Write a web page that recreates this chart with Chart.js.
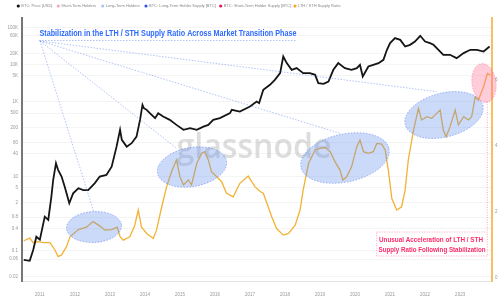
<!DOCTYPE html>
<html>
<head>
<meta charset="utf-8">
<script src="https://cdn.jsdelivr.net/npm/chart.js@4.4.0/dist/chart.umd.min.js"></script>
<style>
  html, body { margin: 0; padding: 0; background: #fff; }
  #wrap { width: 500px; height: 300px; }
</style>
</head>
<body>
<div id="wrap"><canvas id="chart" width="500" height="300"></canvas></div>
<script>
// BTC price (USD), decimal years
const btcT = [
  2010.54, 2010.71, 2010.81, 2010.90, 2011.00, 2011.14, 2011.24, 2011.33, 2011.38, 2011.46,
  2011.52, 2011.62, 2011.71, 2011.84, 2011.95, 2012.10, 2012.24, 2012.38, 2012.57, 2012.71,
  2012.90, 2013.05, 2013.19, 2013.29, 2013.34, 2013.48, 2013.62, 2013.76, 2013.86, 2013.93,
  2013.97, 2014.05, 2014.14, 2014.29, 2014.38, 2014.52, 2014.71, 2014.90, 2015.10, 2015.29,
  2015.48, 2015.67, 2015.81, 2015.95, 2016.14, 2016.43, 2016.48, 2016.71, 2017.00, 2017.19,
  2017.26, 2017.38, 2017.57, 2017.71, 2017.86, 2017.95, 2018.05, 2018.19, 2018.33, 2018.52,
  2018.71, 2018.86, 2018.95, 2019.10, 2019.24, 2019.38, 2019.52, 2019.71, 2019.90, 2020.05,
  2020.14, 2020.22, 2020.38, 2020.52, 2020.67, 2020.81, 2020.91, 2021.00, 2021.14, 2021.29,
  2021.43, 2021.57, 2021.71, 2021.86, 2022.00, 2022.14, 2022.24, 2022.43, 2022.52, 2022.71,
  2022.90, 2023.10, 2023.29, 2023.48, 2023.67, 2023.84
]
const btcPrice = [
  0.057, 0.054, 0.106, 0.24, 0.20, 0.83, 0.68, 2.9, 8.0, 22.6,
  15, 9.9, 5.3, 1.9, 3.5, 4.8, 4.3, 4.3, 6.6, 9.9,
  11, 18.3, 63, 178, 96, 63, 78, 117, 330, 836,
  681, 614, 500, 367, 500, 405, 330, 242, 178, 198,
  178, 218, 242, 330, 367, 500, 614, 552, 752, 1025,
  929, 2115, 2884, 3926, 5943, 16600, 11040, 7300, 8110, 5943,
  5943, 5360, 3200, 3065, 3535, 7300, 11040, 8110, 7300, 8110,
  9930, 4820, 8950, 9930, 11040, 13550, 25150, 38100, 51900, 46600,
  30840, 34270, 42060, 59900, 42060, 38100, 34270, 22650, 18460, 18460,
  15030, 20500, 25150, 25150, 22650, 30840
]

// LTH / STH supply ratio, decimal years
const ratioT = [
  2010.54, 2010.71, 2010.81, 2010.95, 2011.10, 2011.29, 2011.43, 2011.52, 2011.62, 2011.76,
  2011.86, 2012.10, 2012.33, 2012.52, 2012.71, 2012.86, 2013.05, 2013.21, 2013.29, 2013.38,
  2013.57, 2013.71, 2013.81, 2013.90, 2014.05, 2014.24, 2014.33, 2014.48, 2014.62, 2014.76,
  2014.90, 2015.00, 2015.10, 2015.24, 2015.33, 2015.48, 2015.62, 2015.71, 2015.81, 2015.90,
  2016.05, 2016.19, 2016.33, 2016.52, 2016.71, 2016.95, 2017.14, 2017.29, 2017.38, 2017.52,
  2017.62, 2017.76, 2017.95, 2018.10, 2018.29, 2018.43, 2018.52, 2018.67, 2018.86, 2019.00,
  2019.14, 2019.29, 2019.43, 2019.57, 2019.65, 2019.76, 2019.90, 2020.05, 2020.14, 2020.24,
  2020.38, 2020.52, 2020.62, 2020.76, 2020.86, 2020.95, 2021.05, 2021.19, 2021.33, 2021.43,
  2021.52, 2021.67, 2021.81, 2021.90, 2022.05, 2022.19, 2022.33, 2022.43, 2022.52, 2022.60,
  2022.71, 2022.86, 2022.95, 2023.10, 2023.24, 2023.33, 2023.43, 2023.52, 2023.67, 2023.78, 2023.86
]
const ratioValues = [
  1.13, 1.21, 1.07, 1.10, 1.07, 1.07, 0.85, 0.65, 0.70, 0.95,
  1.25, 1.47, 1.54, 1.71, 1.58, 1.45, 1.47, 1.54, 1.25, 1.15,
  1.25, 1.60, 2.06, 1.55, 1.35, 1.20, 1.45, 2.16, 2.77, 3.22,
  3.58, 3.07, 2.82, 2.97, 2.82, 3.47, 3.78, 3.83, 3.58, 3.22,
  3.07, 2.92, 2.57, 2.46, 2.87, 3.09, 2.77, 2.62, 2.57, 2.16,
  1.86, 1.50, 1.30, 1.35, 1.60, 2.06, 2.67, 3.47, 3.88, 3.93,
  3.96, 3.83, 3.52, 3.27, 2.97, 3.07, 3.37, 3.98, 4.18, 3.83,
  3.78, 3.83, 4.08, 4.06, 3.88, 3.27, 2.41, 2.06, 2.16, 2.67,
  3.58, 4.48, 5.14, 4.79, 4.89, 4.84, 4.99, 5.09, 4.48, 4.28,
  4.58, 5.09, 4.64, 4.89, 4.79, 4.89, 5.49, 5.39, 5.80, 6.20, 6.15
]

// axis ticks
const yearTicks = [2011, 2012, 2013, 2014, 2015, 2016, 2017, 2018, 2019, 2020, 2021, 2022, 2023]
const priceTicks = [0.02, 0.06, 0.1, 0.4, 0.8, 2, 5, 10, 40, 80, 200, 500, 1000, 5000, 10000, 20000, 60000, 100000]
const priceTickLabels = ["0.02", "0.06", "0.1", "0.4", "0.8", "2", "5", "10", "40", "80", "200", "500", "1K", "5K", "10K", "20K", "60K", "100K"]
const ratioTicks = [0, 2, 4, 6]

const legendNames = ["BTC: Price [USD]", "Short-Term Holders", "Long-Term Holders", "BTC: Long-Term Holder Supply [BTC]", "BTC: Short-Term Holder Supply [BTC]", "LTH / STH Supply Ratio"]
const legendColors = ["#111111", "#f3a9b8", "#a9c3f3", "#3555e6", "#e8175d", "#f5a623"]

const titleText = "Stabilization in the LTH / STH Supply Ratio Across Market Transition Phase"
const noteLines = ["Unusual Acceleration of LTH / STH", "Supply Ratio Following Stabilization"]

// draw text squeezed/stretched to a given width
function fitText(ctx, text, x, y, width, align) {
  const w = ctx.measureText(text).width
  const sx = width / w
  ctx.save()
  ctx.translate(x, y)
  ctx.scale(sx, 1)
  ctx.textAlign = align || "left"
  ctx.fillText(text, 0, 0)
  ctx.restore()
}

function ellipse(ctx, cx, cy, rx, ry, rot, fill, stroke) {
  ctx.save()
  ctx.beginPath()
  ctx.ellipse(cx, cy, rx, ry, rot * Math.PI / 180, 0, Math.PI * 2)
  ctx.fillStyle = fill
  ctx.fill()
  ctx.setLineDash([1.5, 1.5])
  ctx.lineWidth = 0.8
  ctx.strokeStyle = stroke
  ctx.stroke()
  ctx.restore()
}

const overlay = {
  id: "overlay",
  beforeDatasetsDraw(chart) {
    const ctx = chart.ctx
    ctx.save()
    ctx.font = '600 34px "Open Sans", "DejaVu Sans", sans-serif'
    ctx.fillStyle = "rgba(150,150,150,0.32)"
    ctx.textBaseline = "alphabetic"
    fitText(ctx, "glassnode", 254, 158, 155, "center")
    ctx.restore()
  },
  afterDatasetsDraw(chart) {
    const ctx = chart.ctx
    const blueFill = "rgba(95,140,235,0.32)"
    const blueLine = "rgba(80,120,235,0.7)"
    ellipse(ctx, 94, 227, 27.5, 15.5, -3, blueFill, blueLine)
    ellipse(ctx, 192, 167, 35, 19.5, -10, blueFill, blueLine)
    ellipse(ctx, 345, 158, 45, 24, -12, blueFill, blueLine)
    ellipse(ctx, 444, 115, 40, 22, -14, blueFill, blueLine)
    ellipse(ctx, 484, 83, 12, 19.5, -8, "rgba(255,110,150,0.35)", "rgba(255,90,140,0.6)")

    // dotted pointers from title
    ctx.save()
    ctx.strokeStyle = "rgba(90,130,240,0.6)"
    ctx.lineWidth = 0.8
    ctx.setLineDash([1.5, 1.5])
    const ox = 40, oy = 41
    ;[[94, 212.5], [176.7, 148.3], [340, 133.3], [436.7, 91.7]].forEach(([ex, ey]) => {
      ctx.beginPath()
      ctx.moveTo(ox, oy)
      ctx.lineTo(ex, ey)
      ctx.stroke()
    })
    ctx.beginPath()
    ctx.moveTo(39, 40.5)
    ctx.lineTo(297, 40.5)
    ctx.stroke()
    ctx.restore()

    // title
    ctx.save()
    ctx.font = 'bold 9.5px "Liberation Sans Narrow", "Liberation Sans", Arial, sans-serif'
    ctx.fillStyle = "#2e6bff"
    fitText(ctx, titleText, 39.5, 35.5, 257, "left")
    ctx.restore()

    // note box
    ctx.save()
    ctx.strokeStyle = "rgba(255,80,130,0.65)"
    ctx.lineWidth = 0.8
    ctx.setLineDash([1, 1.5])
    ctx.strokeRect(376.7, 232, 110.6, 24)
    ctx.beginPath()
    ctx.moveTo(487.3, 102)
    ctx.lineTo(487.3, 232)
    ctx.stroke()
    ctx.font = 'bold 7px "Liberation Sans Narrow", "Liberation Sans", Arial, sans-serif'
    ctx.fillStyle = "#ff2b6b"
    fitText(ctx, noteLines[0], 431, 241.5, 104, "center")
    fitText(ctx, noteLines[1], 432, 252, 107, "center")
    ctx.restore()
  },
  afterDraw(chart) {
    const ctx = chart.ctx
    const dotX = [18.3, 58.3, 102.7, 146, 220.7, 295]
    ctx.save()
    ctx.font = '4px "Liberation Sans", Arial, sans-serif'
    ctx.textBaseline = "middle"
    legendNames.forEach((name, i) => {
      ctx.beginPath()
      ctx.arc(dotX[i], 6, 1.6, 0, Math.PI * 2)
      ctx.fillStyle = legendColors[i]
      ctx.fill()
      ctx.fillStyle = "#888"
      ctx.fillText(name, dotX[i] + 3, 6.3)
    })
    ctx.restore()
  },
}

const tickFont = { family: '"Liberation Sans", Arial, sans-serif', size: 4.5 }

new Chart(document.getElementById("chart"), {
  type: "line",
  data: {
    datasets: [
      {
        label: legendNames[0],
        data: btcT.map((t, i) => ({ x: t, y: btcPrice[i] })),
        yAxisID: "y",
        borderColor: "#151515",
        borderWidth: 1.8,
        pointRadius: 0,
        tension: 0,
      },
      {
        label: legendNames[5],
        data: ratioT.map((t, i) => ({ x: t, y: ratioValues[i] })),
        yAxisID: "y2",
        borderColor: "#f2b234",
        borderWidth: 1.3,
        pointRadius: 0,
        tension: 0,
      },
    ],
  },
  options: {
    responsive: false,
    animation: false,
    layout: { padding: { top: 18, left: 0, right: 0, bottom: 0 } },
    plugins: { legend: { display: false }, tooltip: { enabled: false } },
    scales: {
      x: {
        type: "linear",
        bounds: "data",
        min: 2010.49,
        max: 2023.91,
        afterBuildTicks: (s) => { s.ticks = yearTicks.map((v) => ({ value: v })) },
        afterFit: (s) => { s.height = 19 },
        ticks: { callback: (v) => String(v), font: tickFont, color: "#999", maxRotation: 0, autoSkip: false, padding: 3 },
        grid: { display: false },
        border: { color: "#e4e4e4", width: 1 },
      },
      y: {
        type: "logarithmic",
        position: "left",
        bounds: "data",
        min: 0.0155,
        max: 180000,
        afterBuildTicks: (s) => { s.ticks = priceTicks.map((v) => ({ value: v })) },
        afterFit: (s) => { s.width = 22 },
        ticks: {
          callback: (v) => { const k = priceTicks.indexOf(v); return k >= 0 ? priceTickLabels[k] : "" },
          font: tickFont,
          color: "#999",
          padding: 4,
          autoSkip: false,
        },
        grid: { color: "rgba(0,0,0,0.045)", drawTicks: false },
        border: { color: "#777", width: 2 },
      },
      y2: {
        type: "linear",
        position: "right",
        bounds: "data",
        min: -0.09,
        max: 7.88,
        afterBuildTicks: (s) => { s.ticks = ratioTicks.map((v) => ({ value: v })) },
        afterFit: (s) => { s.width = 8 },
        ticks: { font: tickFont, color: "#999", padding: 3 },
        grid: { display: false, drawTicks: false },
        border: { color: "#f7bf5e", width: 2 },
      },
    },
  },
  plugins: [overlay],
})
</script>
</body>
</html>
